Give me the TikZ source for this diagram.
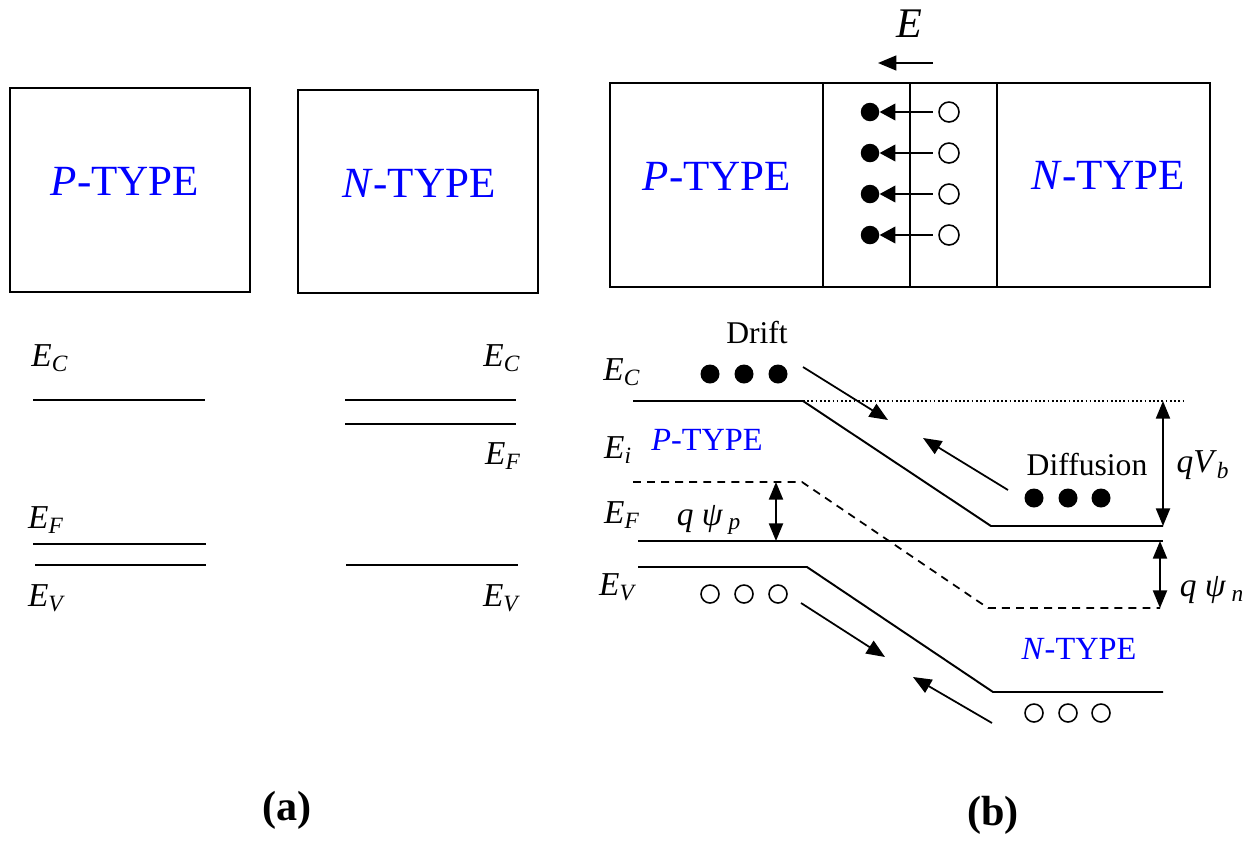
\documentclass[tikz,border=0pt]{standalone}
\usepackage{fontspec}
\setmainfont{Liberation Serif}
\usetikzlibrary{arrows.meta,positioning}

\newcommand{\Elev}[1]{\textit{E}\textsubscript{\textit{#1}}}

\begin{document}
\begin{tikzpicture}[
    x=0.02cm, y=-0.02cm,
    every node/.style={inner sep=0pt},
    box/.style={draw, line width=1.1pt},
    band/.style={line width=1.1pt},
    tip/.style={-{Triangle[length=10.5pt,width=8.5pt]}, line width=1pt},
    ftip/.style={-{Triangle[length=9pt,width=9.5pt]}, line width=1pt},
    dbl/.style={{Triangle[length=10pt,width=8pt]}-{Triangle[length=10pt,width=8pt]}, line width=1pt},
    elec/.style={circle, fill, minimum size=0.38cm},
    hole/.style={circle, draw, line width=0.9pt, minimum size=0.36cm},
    bigtype/.style={text=blue, font=\fontsize{24.5}{28}\selectfont},
    smalltype/.style={text=blue, font=\fontsize{18.4}{22}\selectfont},
    lev/.style={font=\fontsize{19}{22}\selectfont},
    word/.style={font=\fontsize{18}{22}\selectfont},
    tag/.style={font=\bfseries\fontsize{24}{28}\selectfont}
]
\useasboundingbox (0,0) rectangle (1252,843);

% (a) separate blocks
\node[box, minimum width=4.8cm, minimum height=4.08cm] (pbox) at (130,190) {};
\node[box, minimum width=4.8cm, minimum height=4.06cm] (nbox) at (418,191.5) {};
\node[bigtype] (plabel) at (125,181) {\textit{P}-TYPE};
\node[bigtype] (nlabel) at (419,183) {\textit{N}-TYPE};

% (a) band levels
\draw[band] (33,400) -- (205,400);
\draw[band] (33,544) -- (206,544);
\draw[band] (35,565) -- (206,565);
\draw[band] (345,400) -- (516,400);
\draw[band] (345,424) -- (516,424);
\draw[band] (346,565) -- (518,565);
\node[lev] (pec) at (50,358) {\Elev{C}};
\node[lev] (pef) at (46,520) {\Elev{F}};
\node[lev] (pev) at (47,598) {\Elev{V}};
\node[lev] (nec) at (502,358) {\Elev{C}};
\node[lev] (nef) at (503,456) {\Elev{F}};
\node[lev] (nev) at (502,598) {\Elev{V}};

% (b) junction
\node[box, minimum width=4.26cm, minimum height=4.08cm] (preg) at (716.5,185) {};
\node[box, minimum width=1.74cm, minimum height=4.08cm] (dl) at (866.5,185) {};
\node[box, minimum width=1.74cm, minimum height=4.08cm] (dr) at (953.5,185) {};
\node[box, minimum width=4.26cm, minimum height=4.08cm] (nreg) at (1103.5,185) {};
\node[bigtype] (jplabel) at (717,176) {\textit{P}-TYPE};
\node[bigtype] (jnlabel) at (1108,175) {\textit{N}-TYPE};

% field
\node[font=\fontsize{24}{28}\selectfont] (efield) at (909,24) {\textit{E}};
\coordinate (etail) at (933,63);
\coordinate (ehead) at (878,63);
\draw[tip] (etail) -- (ehead);

\foreach \r/\yy in {1/112,2/153,3/194,4/235} {
  \node[elec, minimum size=0.37cm] (e\r) at (870,\yy) {};
  \node[hole, minimum size=0.4cm] (h\r) at (949,\yy) {};
  \draw[ftip, shorten <=3pt] (h\r) -- (e\r);
}

% (b) band diagram
\coordinate (ec1) at (633,401);
\coordinate (ec2) at (803,401);
\coordinate (ec3) at (991,526);
\coordinate (ec4) at (1163,526);
\coordinate (vac) at (1183,401);
\coordinate (ei1) at (633,482);
\coordinate (ei2) at (802,482);
\coordinate (ei3) at (988,608);
\coordinate (ei4) at (1160,608);
\coordinate (ef1) at (638,541);
\coordinate (ef2) at (1163,541);
\coordinate (ev1) at (638,567);
\coordinate (ev2) at (807,567);
\coordinate (ev3) at (993,692);
\coordinate (ev4) at (1163,692);

\draw[band] (ec1) -- (ec2) -- (ec3) -- (ec4);
\draw[line width=0.7pt, dash pattern=on 1pt off 1.4pt] (ec2) -- (vac);
\draw[line width=1pt, dash pattern=on 4.5pt off 3.5pt] (ei1) -- (ei2) -- (ei3) -- (ei4);
\draw[band] (ef1) -- (ef2);
\draw[band] (ev1) -- (ev2) -- (ev3) -- (ev4);

\node[lev] (bec) at (622,372) {\Elev{C}};
\node[lev] (bei) at (618,450) {\Elev{i}};
\node[lev] (bef) at (622,515) {\Elev{F}};
\node[lev] (bev) at (618,587) {\Elev{V}};
\node[smalltype] (bplabel) at (707,440) {\textit{P}-TYPE};
\node[smalltype] (bnlabel) at (1079,649) {\textit{N}-TYPE};

% carriers
\node[word] (drift) at (757,333) {Drift};
\node[word] (diff) at (1087,465) {Diffusion};
\foreach \i/\xx in {1/710,2/744,3/778} {
  \node[elec] (pe\i) at (\xx,374) {};
  \node[hole] (ph\i) at (\xx,594) {};
}
\foreach \i/\xx in {1/1034,2/1068,3/1101} {
  \node[elec] (ne\i) at (\xx,498) {};
  \node[hole] (nh\i) at (\xx,713) {};
}

% drift and diffusion arrows
\coordinate (d1a) at (803,367);
\coordinate (d1b) at (888,420);
\coordinate (f1a) at (1008,490);
\coordinate (f1b) at (923,438);
\coordinate (d2a) at (801,603);
\coordinate (d2b) at (885,657);
\coordinate (f2a) at (992,723);
\coordinate (f2b) at (913,677);
\draw[tip] (d1a) -- (d1b);
\draw[tip] (f1a) -- (f1b);
\draw[tip] (d2a) -- (d2b);
\draw[tip] (f2a) -- (f2b);

% potentials
\coordinate (vbtop) at (1163,401);
\coordinate (psintop) at (1160,541);
\coordinate (psiptop) at (776,482);
\coordinate (psipbot) at (776,541);
\draw[dbl] (vbtop) -- (ec4);
\draw[dbl] (psintop) -- (ei4);
\draw[dbl] (psiptop) -- (psipbot);
\node[lev] (qvb) at (1203,465) {\textit{qV}\textsubscript{\textit{b}}};
\node[lev] (qpn) at (1212,590) {\textit{q ψ}\,\textsubscript{\textit{n}}};
\node[lev] (qpp) at (709,520) {\textit{q ψ}\,\textsubscript{\textit{p}}};

% captions
\node[tag] (capa) at (287,810) {(a)};
\node[tag] (capb) at (993,815) {(b)};

\end{tikzpicture}
\end{document}
